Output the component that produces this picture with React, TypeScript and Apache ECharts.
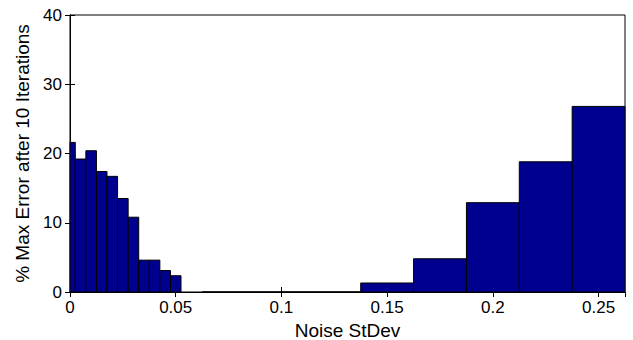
import React, { useEffect, useRef } from "react";
import * as echarts from "echarts";

const binCenters = [0, 0.005, 0.01, 0.015, 0.02, 0.025, 0.03, 0.035, 0.04, 0.045, 0.05, 0.075, 0.1, 0.125, 0.15, 0.175, 0.2, 0.225, 0.25];
const binWidths = [0.005, 0.005, 0.005, 0.005, 0.005, 0.005, 0.005, 0.005, 0.005, 0.005, 0.005, 0.025, 0.025, 0.025, 0.025, 0.025, 0.025, 0.025, 0.025];
const errorValues = [21.6, 19.2, 20.4, 17.4, 16.7, 13.5, 10.8, 4.6, 4.6, 3.1, 2.35, 0, 0, 0, 1.3, 4.8, 12.9, 18.8, 26.8];
const xTickLabels = ["0", "0.05", "0.1", "0.15", "0.2", "0.25"];

const FONT = "'Liberation Sans', Arial, Helvetica, sans-serif";

export default function App() {
  const ref = useRef<HTMLDivElement>(null);
  useEffect(() => {
    if (!ref.current) return;
    const chart = echarts.init(ref.current, null, { renderer: "svg" });
    const data = binCenters.map((c, i) => [c, binWidths[i], errorValues[i]]);
    const xMin = 0;
    const xMax = 0.2625;
    const tickFmt = (v: number) => {
      const idx = Math.round(v / 0.05);
      if (Math.abs(idx * 0.05 - v) < 1e-9 && idx < xTickLabels.length) return xTickLabels[idx];
      return "";
    };
    chart.setOption({
      animation: false,
      backgroundColor: "#ffffff",
      grid: {
        left: 70,
        top: 15,
        width: 555,
        height: 277,
        show: true,
        borderColor: "#000",
        borderWidth: 1,
        backgroundColor: "transparent",
        containLabel: false,
        outerBoundsMode: "none",
      },
      xAxis: [
        {
          type: "value",
          min: xMin,
          max: xMax,
          interval: 0.05,
          name: "Noise StDev",
          nameLocation: "middle",
          nameGap: 29,
          nameTextStyle: { color: "#000", fontSize: 19, fontFamily: FONT },
          axisLine: { show: true, lineStyle: { color: "#000", width: 1 } },
          axisTick: { show: true, inside: true, length: 5, lineStyle: { color: "#000" } },
          axisLabel: { color: "#000", fontSize: 17, fontFamily: FONT, margin: 7, formatter: tickFmt, showMaxLabel: false },
          splitLine: { show: false },
        },
        {
          type: "value",
          position: "top",
          min: xMin,
          max: xMax,
          interval: 0.05,
          axisLine: { show: true, lineStyle: { color: "#000", width: 1 } },
          axisTick: { show: true, inside: true, length: 5, lineStyle: { color: "#000" } },
          axisLabel: { show: false },
          splitLine: { show: false },
        },
      ],
      yAxis: [
        {
          type: "value",
          min: 0,
          max: 40,
          interval: 10,
          name: "% Max Error after 10 Iterations",
          nameLocation: "middle",
          nameGap: 37,
          nameTextStyle: { color: "#000", fontSize: 19, fontFamily: FONT },
          axisLine: { show: true, lineStyle: { color: "#000", width: 1 } },
          axisTick: { show: true, inside: true, length: 5, lineStyle: { color: "#000" } },
          axisLabel: { color: "#000", fontSize: 17, fontFamily: FONT, margin: 8 },
          splitLine: { show: false },
        },
        {
          type: "value",
          position: "right",
          min: 0,
          max: 40,
          interval: 10,
          axisLine: { show: true, lineStyle: { color: "#000", width: 1 } },
          axisTick: { show: true, inside: true, length: 5, lineStyle: { color: "#000" } },
          axisLabel: { show: false },
          splitLine: { show: false },
        },
      ],
      series: [
        {
          type: "custom",
          xAxisIndex: 0,
          yAxisIndex: 0,
          data,
          encode: { x: 0, y: 2 },
          renderItem: (params: any, api: any) => {
            const c = api.value(0);
            const w = api.value(1);
            const v = api.value(2);
            const left = Math.max(c - w / 2, xMin);
            const right = Math.min(c + w / 2, xMax);
            const p0 = api.coord([left, v]);
            const p1 = api.coord([right, 0]);
            return {
              type: "rect",
              shape: { x: p0[0], y: p0[1], width: p1[0] - p0[0], height: p1[1] - p0[1] },
              style: { fill: "#00008F", stroke: "#000", lineWidth: 1 },
            };
          },
        },
      ],
    });
    return () => chart.dispose();
  }, []);
  return <div ref={ref} style={{ position: "fixed", left: 0, top: 0, width: 633, height: 340 }} />;
}
